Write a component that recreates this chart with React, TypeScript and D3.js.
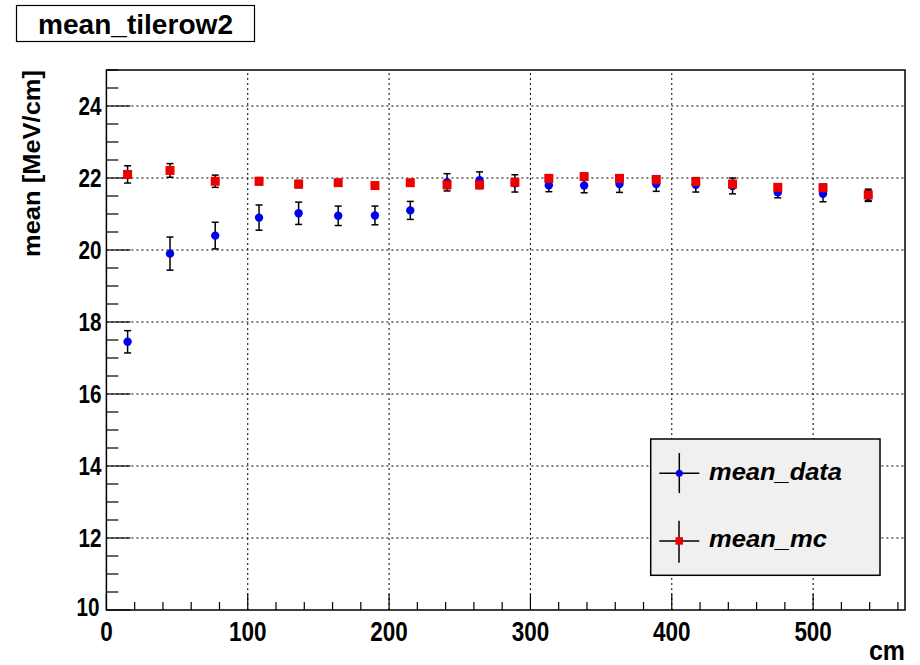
import React from "react";
import * as d3 from "d3";

const xPos = [15, 45, 77, 108, 136, 164, 190, 215, 241, 264, 289, 313, 338, 363, 389, 417, 443, 475, 507, 539];
const dataMean = [17.45, 19.9, 20.4, 20.9, 21.02, 20.95, 20.96, 21.1, 21.88, 21.94, 21.85, 21.8, 21.79, 21.83, 21.83, 21.81, 21.78, 21.6, 21.56, 21.5];
const dataErr = [0.31, 0.46, 0.37, 0.35, 0.31, 0.27, 0.26, 0.25, 0.24, 0.23, 0.24, 0.18, 0.2, 0.23, 0.2, 0.2, 0.22, 0.15, 0.22, 0.15];
const mcMean = [22.1, 22.21, 21.91, 21.91, 21.83, 21.87, 21.79, 21.87, 21.81, 21.81, 21.88, 21.99, 22.04, 21.99, 21.96, 21.9, 21.83, 21.74, 21.73, 21.53];
const mcErr = [0.24, 0.19, 0.17, 0.1, 0.1, 0.08, 0.08, 0.08, 0.1, 0.1, 0.1, 0.08, 0.06, 0.08, 0.08, 0.1, 0.1, 0.1, 0.1, 0.16];

const xTicks = [0, 100, 200, 300, 400, 500];
const yTicks = [10, 12, 14, 16, 18, 20, 22, 24];
const xMinor = d3.range(0, 565, 20);
const yMinor = d3.range(10, 25.01, 0.5);

const title = "mean_tilerow2";
const xTitle = "cm";
const yTitle = "mean [MeV/cm]";
const legendLabels = ["mean_data", "mean_mc"];

const L = 106.4, R = 905, T = 70, B = 610;
const FONT = "'Liberation Sans', Arial, Helvetica, sans-serif";

export default function App() {
  const x = d3.scaleLinear().domain([0, 565]).range([L, R]);
  const y = d3.scaleLinear().domain([10, 25]).range([B, T]);

  const errBar = (xv: number, m: number, e: number, k: string) => {
    const cx = x(xv);
    return (
      <g key={k} stroke="#000" strokeWidth={1.5}>
        <line x1={cx} x2={cx} y1={y(m - e)} y2={y(m + e)} />
        <line x1={cx - 3.5} x2={cx + 3.5} y1={y(m - e)} y2={y(m - e)} />
        <line x1={cx - 3.5} x2={cx + 3.5} y1={y(m + e)} y2={y(m + e)} />
      </g>
    );
  };

  return (
    <div style={{ position: "absolute", left: 0, top: 0 }}>
      <svg width={920} height={665} style={{ display: "block", background: "#fff" }}>
        <rect x={0} y={0} width={920} height={665} fill="#fff" />
        {/* title */}
        <rect x={16.5} y={5.5} width={238} height={36} fill="#fff" stroke="#000" strokeWidth={1.2} />
        <text x={38} y={34} fontFamily={FONT} fontWeight="bold" fontSize={28} textLength={195} lengthAdjust="spacingAndGlyphs">{title}</text>

        {/* grid */}
        <g stroke="#000" strokeWidth={1} strokeDasharray="2,3">
          {xTicks.filter((t) => t > 0).map((t) => (
            <line key={"gx" + t} x1={x(t)} x2={x(t)} y1={B} y2={T} />
          ))}
          {yTicks.filter((t) => t > 10).map((t) => (
            <line key={"gy" + t} x1={L} x2={R} y1={y(t)} y2={y(t)} />
          ))}
        </g>

        {/* ticks */}
        <g stroke="#000" strokeWidth={1.2}>
          {yMinor.map((t) => {
            const major = Math.abs(t % 2) < 1e-6;
            return <line key={"ty" + t} x1={L} x2={L + (major ? 24 : 12)} y1={y(t)} y2={y(t)} />;
          })}
          {xMinor.map((t) => {
            const major = t % 100 === 0;
            return <line key={"tx" + t} x1={x(t)} x2={x(t)} y1={B} y2={B - (major ? 16 : 8)} />;
          })}
        </g>

        {/* frame */}
        <rect x={L} y={T} width={R - L} height={B - T} fill="none" stroke="#000" strokeWidth={1.5} />

        {/* tick labels */}
        <g fontFamily={FONT} fontWeight="bold" fill="#000">
          {yTicks.map((t) => (
            <text key={"ly" + t} x={t === 10 ? L - 7 : L - 5} y={y(t) + (t === 10 ? 6 : 9)} textAnchor="end" fontSize={25} textLength={23} lengthAdjust="spacingAndGlyphs">{t}</text>
          ))}
          {xTicks.map((t) => {
            const s = String(t);
            return (
              <text key={"lx" + t} x={x(t) - (s.length * 12.5) / 2} y={641} textLength={s.length * 12.5} lengthAdjust="spacingAndGlyphs" fontSize={27}>{s}</text>
            );
          })}
        </g>

        {/* axis titles */}
        <text x={869} y={660} fontFamily={FONT} fontWeight="bold" fontSize={27} textLength={36} lengthAdjust="spacingAndGlyphs">{xTitle}</text>
        <text transform={`translate(40,70) rotate(-90)`} textAnchor="end" fontFamily={FONT} fontWeight="bold" fontSize={24} textLength={187} lengthAdjust="spacingAndGlyphs">{yTitle}</text>

        {/* data */}
        {xPos.map((xv, i) => errBar(xv, dataMean[i], dataErr[i], "ed" + i))}
        {xPos.map((xv, i) => (
          <circle key={"pd" + i} cx={x(xv)} cy={y(dataMean[i])} r={4.2} fill="#0000ee" />
        ))}
        {xPos.map((xv, i) => errBar(xv, mcMean[i], mcErr[i], "em" + i))}
        {xPos.map((xv, i) => (
          <rect key={"pm" + i} x={x(xv) - 4.5} y={y(mcMean[i]) - 4.5} width={9} height={9} fill="#ee0000" />
        ))}

        {/* legend */}
        <rect x={650.7} y={439} width={229.3} height={136.3} fill="#f0f0f0" stroke="#000" strokeWidth={1.5} />
        <g stroke="#000" strokeWidth={1.5}>
          <line x1={659.3} x2={699.3} y1={473.3} y2={473.3} />
          <line x1={679.3} x2={679.3} y1={453} y2={493} />
          <line x1={659.3} x2={699.3} y1={541} y2={541} />
          <line x1={679} x2={679} y1={520.7} y2={562.7} />
        </g>
        <circle cx={679.3} cy={473.3} r={3.5} fill="#0000ee" />
        <rect x={675.5} y={537.2} width={7.5} height={7.5} fill="#ee0000" />
        <g fontFamily={FONT} fontWeight="bold" fontStyle="italic" fontSize={24} fill="#000">
          <text x={709} y={480} textLength={133} lengthAdjust="spacingAndGlyphs">{legendLabels[0]}</text>
          <text x={709} y={547} textLength={118} lengthAdjust="spacingAndGlyphs">{legendLabels[1]}</text>
        </g>
      </svg>
    </div>
  );
}
